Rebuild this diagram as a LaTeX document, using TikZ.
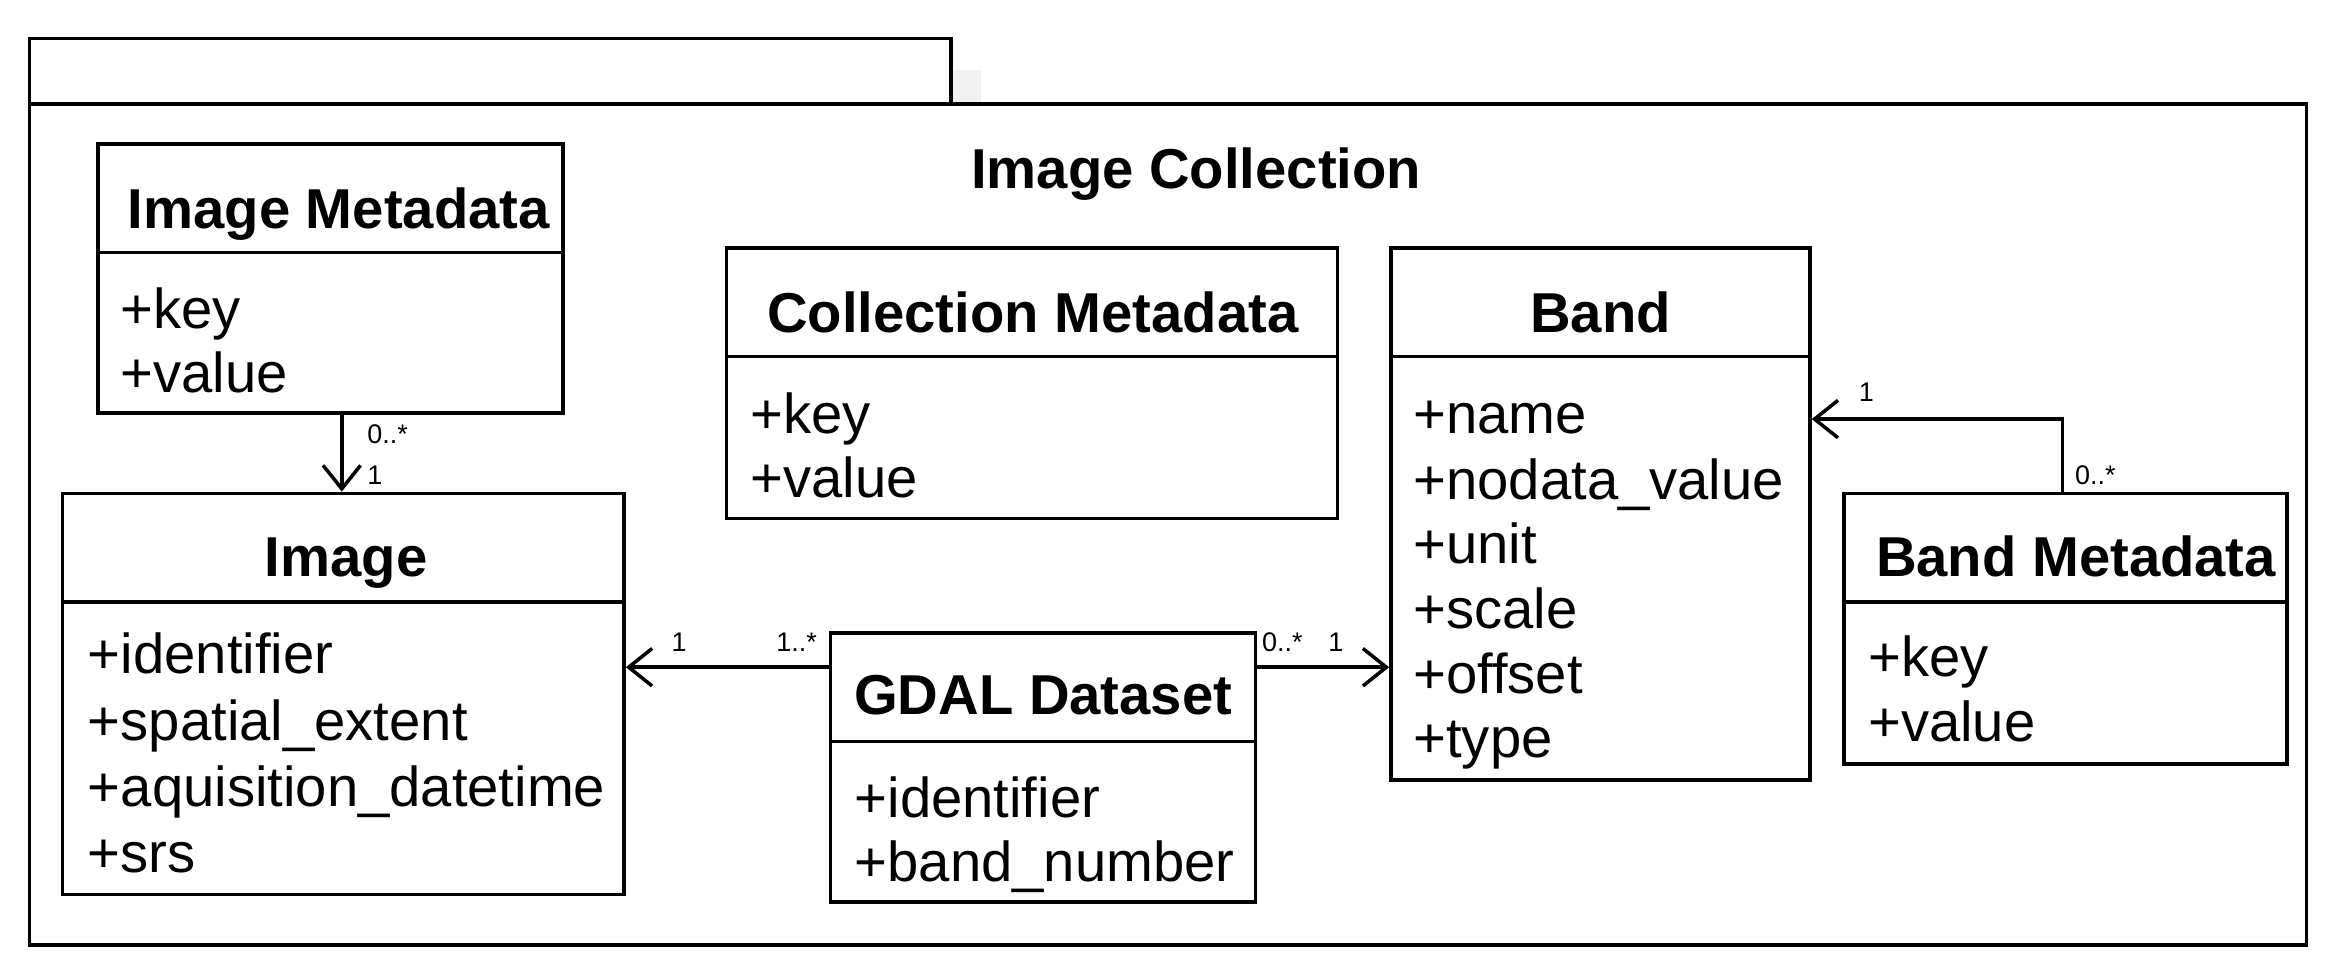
\documentclass[tikz,border=0pt]{standalone}
\usepackage{fontspec}
\setmainfont{Liberation Sans}
\usetikzlibrary{fit,arrows.meta}
\begin{document}
\begin{tikzpicture}[x=0.04458cm,y=-0.04458cm,line width=3pt,
  box/.style={draw,inner sep=0pt,fit={#1}},
  ttl/.style={font=\fontsize{48}{54}\selectfont\bfseries,anchor=base},
  att/.style={font=\fontsize{48}{54}\selectfont,anchor=base west,inner sep=0pt},
  mul/.style={font=\fontsize{23}{26}\selectfont,inner sep=0pt},
  arr/.style={-{Straight Barb[length=20pt,width=32pt,line width=3pt]}}]
\useasboundingbox (0,0) rectangle (1569.3,658.8);
% package frame
\fill[gray!12] (640,47) rectangle (660,70);
\node[box={(20,26)(640,70)}] (tab) {};
\node[box={(20,70)(1552,636)}] (pkg) {};
\node[ttl] (pt) at (805,127) {Image Collection};
% Image Metadata
\node[box={(66,97)(379,278)}] (im) {};
\draw (66,170) -- (379,170);
\node[ttl] at (228,154) {Image Metadata};
\node[att] at (80,221) {+key};
\node[att] at (80,264) {+value};
% Image
\node[box={(42,332)(420,602)}] (img) {};
\draw (42,405) -- (420,405);
\node[ttl] at (233,388) {Image};
\node[att] at (58,453) {+identifier};
\node[att] at (58,498) {+spatial\_extent};
\node[att] at (58,543) {+aquisition\_datetime};
\node[att] at (58,587) {+srs};
% Collection Metadata
\node[box={(489,167)(900,349)}] (cm) {};
\draw (489,240) -- (900,240);
\node[ttl] at (695,224) {Collection Metadata};
\node[att] at (504,292) {+key};
\node[att] at (504,335) {+value};
% Band
\node[box={(936,167)(1218,525)}] (band) {};
\draw (936,240) -- (1218,240);
\node[ttl] at (1077,224) {Band};
\node[att] at (950,292) {+name};
\node[att] at (950,336) {+nodata\_value};
\node[att] at (950,379) {+unit};
\node[att] at (950,423) {+scale};
\node[att] at (950,467) {+offset};
\node[att] at (950,510) {+type};
% Band Metadata
\node[box={(1241,332)(1539,514)}] (bm) {};
\draw (1241,405) -- (1539,405);
\node[ttl] at (1397,388) {Band Metadata};
\node[att] at (1256,455) {+key};
\node[att] at (1256,499) {+value};
% GDAL Dataset
\node[box={(559,426)(845,607)}] (gd) {};
\draw (559,499) -- (845,499);
\node[ttl] at (702,481) {GDAL Dataset};
\node[att] at (574,550) {+identifier};
\node[att] at (574,593) {+band\_number};
% connectors
\draw[arr] (im.south -| 230,0) -- (img.north -| 230,0);
\node[mul,anchor=west] at (246,292) {0..*};
\node[mul,anchor=west] at (246,320) {1};
\draw[arr] (gd.west |- 0,449) -- (img.east |- 0,449);
\node[mul] at (457,432) {1};
\node[mul] at (536,432) {1..*};
\node[mul] at (863,432) {0..*};
\node[mul] at (899,432) {1};
\draw[arr] (gd.east |- 0,449) -- (band.west |- 0,449);
\draw[arr] (bm.north -| 1388,0) -- (1388,282) -- (band.east |- 0,282);
\node[mul] at (1256,264) {1};
\node[mul] at (1410,320) {0..*};
\end{tikzpicture}
\end{document}
